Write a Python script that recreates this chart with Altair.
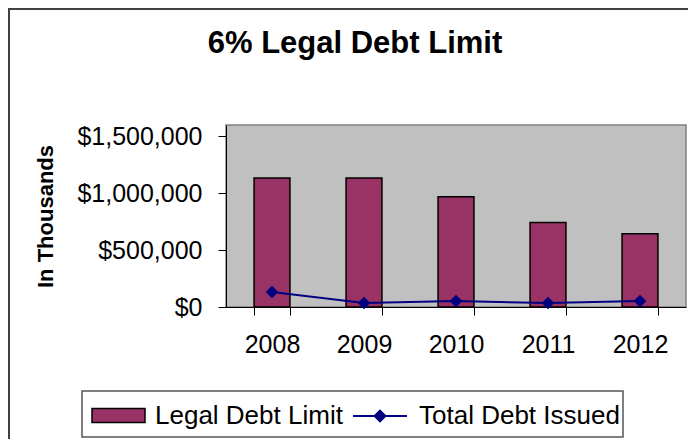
import altair as alt
import pandas as pd

years = ["2008", "2009", "2010", "2011", "2012"]
legal_debt_limit = [1135000, 1135000, 970000, 742000, 645000]
total_debt_issued = [132000, 35000, 52000, 35000, 52000]
y_ticks = [0, 500000, 1000000, 1500000]

df = pd.DataFrame({"year": years, "limit": legal_debt_limit, "issued": total_debt_issued})
FONT = "Liberation Sans"

x_enc = alt.X(
    "year:N",
    scale=alt.Scale(paddingInner=0.61, paddingOuter=0.305),
    axis=alt.Axis(
        title=None, labelAngle=0, labelFont=FONT, labelFontSize=25, labelColor="black",
        tickBand="extent", tickSize=8, tickColor="black", domainColor="black",
        labelPadding=17, grid=False,
    ),
)

bars = alt.Chart(df).mark_bar(stroke="black", strokeWidth=1.5).encode(
    x=x_enc,
    y=alt.Y(
        "limit:Q",
        scale=alt.Scale(domain=[0, 1500000]),
        axis=alt.Axis(
            values=y_ticks, format="$,.0f", labelFont=FONT, labelFontSize=25, labelColor="black",
            tickSize=8, tickColor="black", domainColor="black", labelPadding=16, grid=False,
            title="In Thousands", titleFont=FONT, titleFontSize=22, titleFontWeight="bold",
            titleColor="black", titleX=-181, titleY=91, titleAngle=270, titleAlign="center",
            titleBaseline="middle",
        ),
    ),
    fill=alt.Fill(
        "s:N",
        scale=alt.Scale(domain=["Legal Debt Limit"], range=["#993366"]),
        legend=alt.Legend(
            title=None, orient="none", legendX=-135, legendY=263, padding=0,
            symbolType="M-1,-0.264H1V0.264H-1Z", symbolSize=2809,
            symbolStrokeColor="black", symbolStrokeWidth=1.5, symbolOpacity=1,
            labelFont=FONT, labelFontSize=26, labelColor="black", labelOffset=9, labelLimit=400,
        ),
    ),
).transform_calculate(s="'Legal Debt Limit'")

line = alt.Chart(df).mark_line(strokeWidth=2).encode(
    x=alt.X("year:N"),
    y=alt.Y("issued:Q"),
    stroke=alt.Stroke(
        "t:N",
        scale=alt.Scale(domain=["Total Debt Issued"], range=["#000080"]),
        legend=alt.Legend(
            title=None, orient="none", legendX=126, legendY=263, padding=0,
            symbolType="M-1,0H1M0,-0.2L0.2,0L0,0.2L-0.2,0Z", symbolSize=2916,
            symbolFillColor="#000080", symbolStrokeWidth=2, symbolOpacity=1,
            labelFont=FONT, labelFontSize=26, labelColor="black", labelOffset=11, labelLimit=400,
        ),
    ),
).transform_calculate(t="'Total Debt Issued'")

points = alt.Chart(df).mark_point(shape="diamond", filled=True, size=160, color="#000080", opacity=1).encode(
    x=alt.X("year:N"),
    y=alt.Y("issued:Q"),
)

one = pd.DataFrame({"a": [0]})
frame_left = alt.Chart(one).mark_rule(stroke="#404040", strokeWidth=2).encode(
    x=alt.value(-217), y=alt.value(-117), y2=alt.value(320)
)
frame_top = alt.Chart(one).mark_rule(stroke="#404040", strokeWidth=2).encode(
    x=alt.value(-218), x2=alt.value(470), y=alt.value(-116)
)
legend_box = alt.Chart(one).mark_rect(fill="white", fillOpacity=0, stroke="#555555", strokeWidth=1.5).encode(
    x=alt.value(-144), x2=alt.value(397), y=alt.value(266), y2=alt.value(312)
)

chart = alt.layer(frame_left, frame_top, legend_box, bars, line, points).resolve_scale(
    fill="independent", stroke="independent"
).properties(
    width=460, height=182,
    autosize=alt.AutoSizeParams(type="none"),
    padding={"left": 218, "top": 117, "right": 2, "bottom": 132},
    title=alt.TitleParams(
        "6% Legal Debt Limit", font=FONT, fontSize=31, fontWeight="bold", color="black",
        anchor="middle", frame="group", dx=-101, offset=-77, baseline="alphabetic",
    ),
    background="white",
).configure_view(fill="#C0C0C0", stroke="#808080", strokeWidth=1.5)

chart.save("out.html", embed_options={"renderer": "svg", "actions": False})
